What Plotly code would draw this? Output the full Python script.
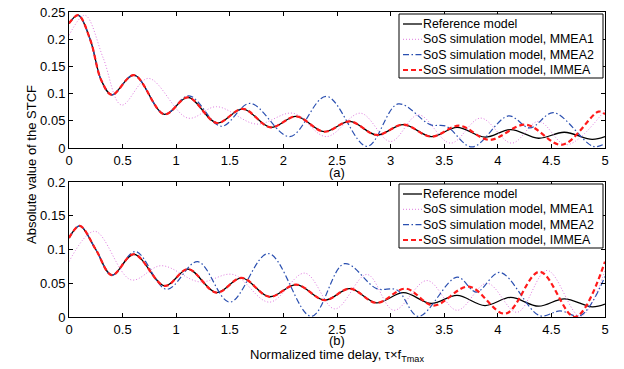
import plotly.graph_objects as go

# ---- panel (a) ----
a_ref_x = [0, 0.087, 0.2, 0.3, 0.4, 0.605, 0.89, 1.11, 1.38, 1.62, 1.88, 2.12, 2.38, 2.62, 2.87, 3.12, 3.38, 3.62, 3.88, 4.12, 4.38, 4.62, 4.88, 5.0]
a_ref_y = [0.229, 0.244, 0.198, 0.125, 0.0976, 0.134, 0.062, 0.093, 0.046, 0.072, 0.038, 0.058, 0.030, 0.049, 0.024, 0.043, 0.021, 0.038, 0.020, 0.034, 0.018, 0.029, 0.016, 0.021]

a_m1_x = [0, 0.149, 0.32, 0.49, 0.74, 1.11, 1.376, 1.75, 2.09, 2.40, 2.72, 3.0, 3.26, 3.56, 3.84, 4.13, 4.38, 4.64, 5.0]
a_m1_y = [0.207, 0.244, 0.165, 0.079, 0.128, 0.055, 0.076, 0.044, 0.064, 0.021, 0.064, 0.012, 0.061, 0.009, 0.055, 0.009, 0.049, 0.006, 0.070]

a_m2_x = [0, 0.087, 0.2, 0.3, 0.4, 0.605, 0.89, 1.12, 1.42, 1.69, 2.06, 2.40, 2.78, 3.07, 3.37, 3.52, 3.76, 4.10, 4.30, 4.52, 4.89, 5.0]
a_m2_y = [0.229, 0.244, 0.198, 0.125, 0.0976, 0.134, 0.062, 0.096, 0.040, 0.082, 0.021, 0.095, 0.003, 0.081, 0.043, 0.040, 0.002, 0.059, 0.037, 0.065, 0.003, 0.008]

a_im_x = [0, 0.087, 0.2, 0.3, 0.4, 0.605, 0.89, 1.11, 1.38, 1.62, 1.88, 2.12, 2.38, 2.62, 2.87, 3.12, 3.38, 3.64, 3.92, 4.26, 4.60, 4.94, 5.0]
a_im_y = [0.229, 0.244, 0.198, 0.125, 0.0976, 0.134, 0.062, 0.093, 0.046, 0.072, 0.038, 0.058, 0.030, 0.049, 0.024, 0.043, 0.021, 0.041, 0.015, 0.043, 0.006, 0.067, 0.062]

# ---- panel (b) ----
b_ref_x = [0, 0.10, 0.25, 0.40, 0.605, 0.894, 1.11, 1.376, 1.61, 1.87, 2.12, 2.385, 2.62, 2.87, 3.12, 3.38, 3.62, 3.88, 4.12, 4.38, 4.62, 4.88, 5.0]
b_ref_y = [0.117, 0.135, 0.100, 0.062, 0.093, 0.046, 0.071, 0.036, 0.058, 0.030, 0.048, 0.025, 0.042, 0.021, 0.036, 0.020, 0.032, 0.017, 0.029, 0.016, 0.027, 0.015, 0.019]

b_m1_x = [0, 0.24, 0.58, 0.86, 1.22, 1.53, 1.87, 2.20, 2.48, 2.78, 3.03, 3.34, 3.62, 3.90, 4.18, 4.46, 4.77, 5.0]
b_m1_y = [0.082, 0.127, 0.055, 0.076, 0.052, 0.063, 0.022, 0.065, 0.012, 0.063, 0.010, 0.054, 0.010, 0.050, 0.007, 0.069, 0.001, 0.069]

b_m2_x = [0, 0.10, 0.25, 0.40, 0.62, 0.91, 1.20, 1.50, 1.86, 2.26, 2.57, 2.87, 3.06, 3.26, 3.62, 3.80, 4.02, 4.39, 4.58, 4.77, 5.0]
b_m2_y = [0.117, 0.135, 0.100, 0.062, 0.097, 0.041, 0.082, 0.022, 0.094, 0.001, 0.079, 0.042, 0.040, 0.001, 0.059, 0.037, 0.066, 0.002, 0.009, 0.002, 0.060]

b_im_x = [0, 0.10, 0.25, 0.40, 0.605, 0.894, 1.11, 1.376, 1.61, 1.87, 2.12, 2.385, 2.62, 2.87, 3.14, 3.40, 3.73, 4.07, 4.39, 4.72, 5.0]
b_im_y = [0.117, 0.135, 0.100, 0.062, 0.093, 0.046, 0.071, 0.036, 0.058, 0.030, 0.048, 0.025, 0.042, 0.021, 0.042, 0.017, 0.045, 0.005, 0.067, 0.000, 0.082]

names = ["Reference model", "SoS simulation model, MMEA1",
         "SoS simulation model, MMEA2", "SoS simulation model, IMMEA"]
styles = [dict(color="black", width=1.3, dash="solid"),
          dict(color="#e07ae0", width=1.0, dash="1px,2px"),
          dict(color="#2a4fb0", width=1.2, dash="6px,2.5px,1.5px,2.5px"),
          dict(color="#ff1a1a", width=2.2, dash="5px,3px")]

FONT = "Liberation Sans, Arial, Helvetica"
FS = 13
LFS = 12.4

fig = go.Figure()
panels = [
    ("x", "y", [(a_ref_x, a_ref_y), (a_m1_x, a_m1_y), (a_m2_x, a_m2_y), (a_im_x, a_im_y)]),
    ("x2", "y2", [(b_ref_x, b_ref_y), (b_m1_x, b_m1_y), (b_m2_x, b_m2_y), (b_im_x, b_im_y)]),
]
for xa, ya, series in panels:
    for (sx, sy), nm, st in zip(series, names, styles):
        fig.add_trace(go.Scatter(x=sx, y=sy, mode="lines", name=nm, showlegend=False,
                                 line=dict(shape="spline", smoothing=1.0, **st),
                                 xaxis=xa, yaxis=ya))

axis_common = dict(showline=True, linecolor="black", linewidth=1, mirror="ticks",
                   ticks="inside", ticklen=4, tickcolor="black", showgrid=False,
                   zeroline=False, automargin=False, ticklabeloverflow="allow",
                   tickfont=dict(family=FONT, size=FS, color="black"))

x_ticks = [0, 0.5, 1, 1.5, 2, 2.5, 3, 3.5, 4, 4.5, 5]
x_ticktext = ["0", "0.5", "1", "1.5", "2", "2.5", "3", "3.5", "4", "4.5", "5"]
ya_ticks = [0, 0.05, 0.1, 0.15, 0.2, 0.25]
ya_text = ["0", "0.05", "0.1", "0.15", "0.2", "0.25"]
yb_ticks = [0, 0.05, 0.1, 0.15, 0.2]
yb_text = ["0", "0.05", "0.1", "0.15", "0.2"]

# plot area in page pixels: x 69..605, y 12..317 (page has 8px body offset)
PX0, PW, PY1, PH = 69.0, 536.0, 317.0, 305.0
def px(v):
    return (v - PX0) / PW
def py(v):
    return (PY1 - v) / PH

shapes = []
annotations = []
for top in (14, 184):
    shapes.append(dict(type="rect", xref="paper", yref="paper",
                       x0=px(399), x1=px(603), y0=py(top), y1=py(top + 64),
                       line=dict(color="black", width=1), fillcolor="white", layer="above"))
    for k, (nm, st) in enumerate(zip(names, styles)):
        yy = top + [10, 25.3, 40.6, 56][k]
        shapes.append(dict(type="line", xref="paper", yref="paper",
                           x0=px(403), x1=px(422), y0=py(yy), y1=py(yy),
                           line=dict(color=st["color"], width=st["width"], dash=st["dash"]),
                           layer="above"))
        annotations.append(dict(text=nm, xref="paper", yref="paper", x=px(421), y=py(yy),
                                xanchor="left", yanchor="middle", showarrow=False,
                                font=dict(family=FONT, size=LFS, color="black")))

annotations += [
    dict(text="(a)", xref="x", yref="paper", x=2.5, y=0.554, yshift=-24, showarrow=False,
         font=dict(size=FS), yanchor="middle"),
    dict(text="(b)", xref="x2", yref="paper", x=2.5, y=0, yshift=-23, showarrow=False,
         font=dict(size=FS), yanchor="middle"),
    dict(text="Normalized time delay, τ×f<sub>Tmax</sub>", xref="x2", yref="paper", x=2.5, y=0,
         yshift=-38, showarrow=False, font=dict(size=FS), yanchor="middle"),
    dict(text="Absolute value of the STCF", xref="paper", yref="paper", x=0, xshift=-47,
         y=0.5, yshift=0, showarrow=False, textangle=-90, font=dict(size=FS)),
]

fig.update_layout(
    width=616, height=361,
    margin=dict(l=61, r=19, t=4, b=52, autoexpand=False),
    paper_bgcolor="white", plot_bgcolor="white",
    font=dict(family=FONT, size=FS, color="black"),
    xaxis=dict(domain=[0, 1], range=[0, 5], tickvals=x_ticks, ticktext=x_ticktext, anchor="y", **axis_common),
    yaxis=dict(domain=[0.554, 1], range=[0, 0.25], tickvals=ya_ticks, ticktext=ya_text, anchor="x", **axis_common),
    xaxis2=dict(domain=[0, 1], range=[0, 5], tickvals=x_ticks, ticktext=x_ticktext, anchor="y2", **axis_common),
    yaxis2=dict(domain=[0, 0.4426], range=[0, 0.2], tickvals=yb_ticks, ticktext=yb_text, anchor="x2", **axis_common),
    showlegend=False,
    shapes=shapes,
    annotations=annotations,
)

fig.write_html("out.html")
